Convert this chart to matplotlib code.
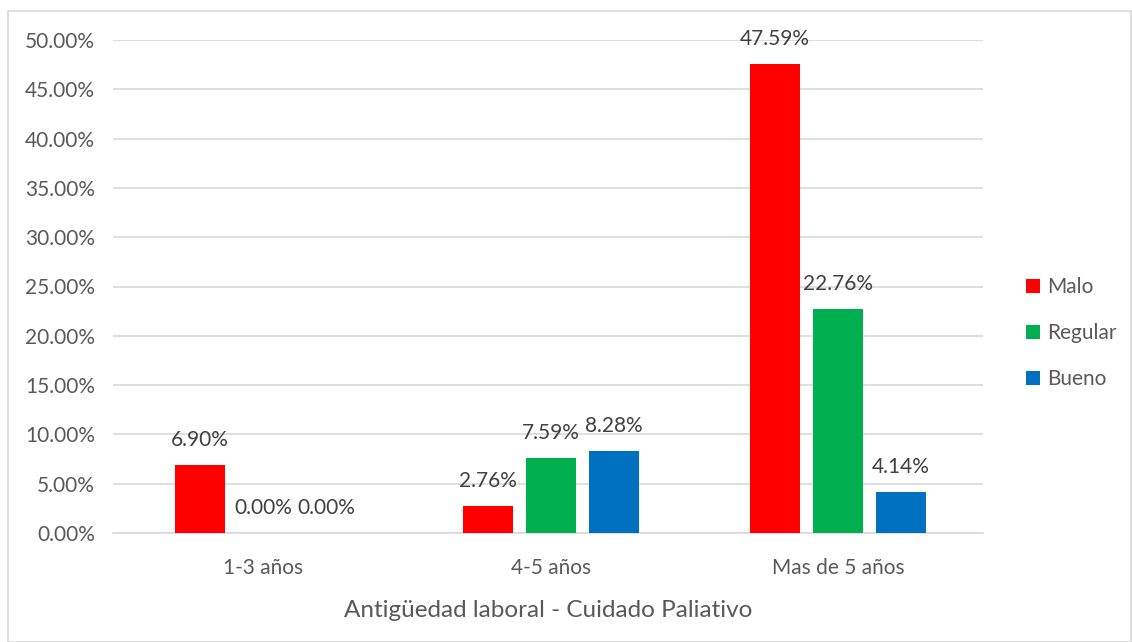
import matplotlib.pyplot as plt
import numpy as np
from matplotlib.patches import Rectangle

categorias = ["1-3 años", "4-5 años", "Mas de 5 años"]
malo = [6.90, 2.76, 47.59]
regular = [0.00, 7.59, 22.76]
bueno = [0.00, 8.28, 4.14]
series = ["Malo", "Regular", "Bueno"]
colores = ["#FF0000", "#00B050", "#0070C0"]
yticks = np.arange(0, 55, 5)

plt.rcParams['font.family'] = ['Lato', 'DejaVu Sans']
gris = "#595959"

fig = plt.figure(figsize=(11.32, 6.42), dpi=100)
# marco del grafico
fig.patches.append(Rectangle((8 / 1132, 0), 1 - 9 / 1132, 1 - 11 / 642, transform=fig.transFigure,
                             fill=False, edgecolor="#D9D9D9", linewidth=1.2))
ax = fig.add_axes([113 / 1132, 1 - 533 / 642, 870 / 1132, 493 / 642])

x = np.arange(len(categorias))
ancho = 0.174
paso = 0.219
for i, (vals, nombre, col) in enumerate(zip([malo, regular, bueno], series, colores)):
    pos = x + (i - 1) * paso
    ax.bar(pos, vals, ancho, color=col, label=nombre, zorder=3)
    for px, v in zip(pos, vals):
        ax.annotate(f"{v:.2f}%", (px, v), xytext=(0, 18), textcoords="offset points",
                    ha="center", va="center", fontsize=15, color="#404040")

ax.set_xlim(-0.522, 2.504)
ax.set_ylim(0, 50)
ax.set_yticks(yticks)
ax.set_yticklabels([f"{t:.2f}%" for t in yticks])
ax.set_xticks(x)
ax.set_xticklabels(categorias)
ax.tick_params(axis="both", length=0, labelsize=15, labelcolor=gris)
ax.tick_params(axis="y", pad=13)
ax.tick_params(axis="x", pad=18)
ax.grid(axis="y", color="#D9D9D9", linewidth=1.2, zorder=0)
for s in ["top", "right", "left"]:
    ax.spines[s].set_visible(False)
ax.spines["bottom"].set_color("#D9D9D9")
ax.spines["bottom"].set_linewidth(1.2)
ax.set_xlabel("Antigüedad laboral - Cuidado Paliativo", fontsize=17.5, color=gris, labelpad=16)

ax.legend(loc="center left", bbox_to_anchor=(1.028, 0.405), frameon=False, fontsize=15,
          labelcolor=gris, handlelength=0.65, handleheight=0.65, handletextpad=0.35,
          labelspacing=1.25)

fig.savefig("out.png", dpi=100)
